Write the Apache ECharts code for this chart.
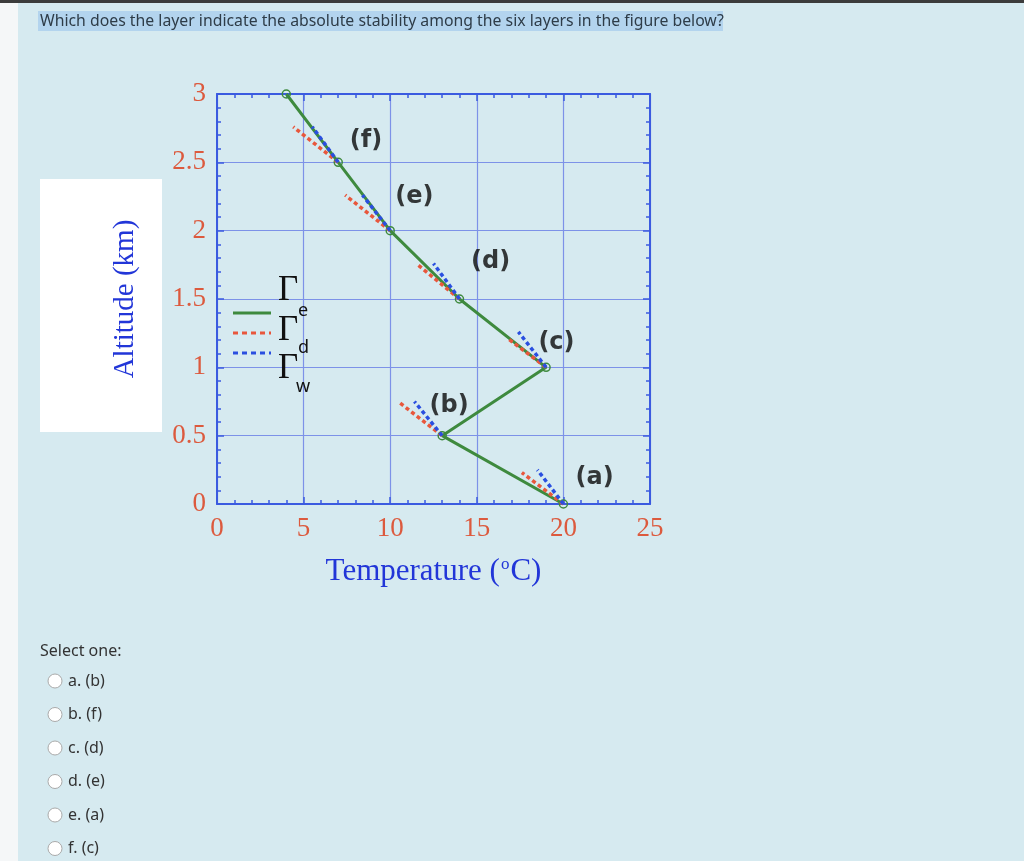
<!DOCTYPE html>
<html>
<head>
<meta charset="utf-8">
<script src="https://cdn.jsdelivr.net/npm/echarts@6/dist/echarts.min.js"></script>
<style>
html,body{margin:0;padding:0;background:#d6eaf0;}
#chart{width:1024px;height:861px;}
</style>
</head>
<body>
<div id="chart"></div>
<script>
// Environmental temperature profile (Γe)
const envTemp = [20, 13, 19, 14, 10, 7, 4];
const envAlt = [0, 0.5, 1, 1.5, 2, 2.5, 3];
// Layer labels
const layerNames = ['(a)', '(b)', '(c)', '(d)', '(e)', '(f)'];
const labelTemp = [21.8, 13.4, 19.6, 15.8, 11.4, 8.6];
const labelAlt = [0.19, 0.72, 1.18, 1.77, 2.25, 2.66];
// Reference segments start at the base of each layer
const baseTemp = [20, 13, 19, 14, 10, 7];
const baseAlt = [0, 0.5, 1, 1.5, 2, 2.5];
// Dry adiabatic (Γd) segment ends
const dryEndTemp = [17.6, 10.45, 16.8, 11.5, 7.4, 4.4];
const dryEndAlt = [0.23, 0.75, 1.21, 1.76, 2.26, 2.76];
// Moist adiabatic (Γw) segment ends
const moistEndTemp = [18.5, 11.4, 17.4, 12.5, 8.4, 5.5];
const moistEndAlt = [0.25, 0.75, 1.26, 1.76, 2.26, 2.76];
// Ticks
const xTicks = [0, 5, 10, 15, 20, 25];
const yTicks = [0, 0.5, 1, 1.5, 2, 2.5, 3];
// Quiz text
const questionText = 'Which does the layer indicate the absolute stability among the six layers in the figure below?';
const optionTexts = ['a. (b)', 'b. (f)', 'c. (d)', 'd. (e)', 'e. (a)', 'f. (c)'];

const envData = envTemp.map((t, i) => [t, envAlt[i]]);
function segData(endT, endA) {
  const d = [];
  baseTemp.forEach((t, i) => {
    d.push([t, baseAlt[i]]);
    d.push([endT[i], endA[i]]);
    d.push(['-', '-']);
  });
  return d;
}
const labelData = layerNames.map((n, i) => ({ value: [labelTemp[i], labelAlt[i]], name: n }));

const axisBlue = '#3b5be0';
const gridBlue = '#7d92e8';
const tickRed = '#dc5a3e';
const nameBlue = '#2236d8';
const serif = '"Liberation Serif", "DejaVu Serif", serif';
const sans = '"Noto Sans", "Open Sans", sans-serif';

function mkX(pos, showLabel) {
  return {
    type: 'value', position: pos, min: 0, max: 25, interval: 5,
    axisLine: { show: true, onZero: false, lineStyle: { color: axisBlue, width: 2 } },
    axisTick: { show: true, inside: true, length: 7, lineStyle: { color: axisBlue, width: 1.5 } },
    minorTick: { show: true, splitNumber: 5, length: 4, lineStyle: { color: axisBlue, width: 1.5 } },
    splitLine: { show: showLabel, lineStyle: { color: gridBlue, width: 1.2 } },
    axisLabel: { show: showLabel, color: tickRed, fontFamily: serif, fontSize: 27, margin: 11 },
    name: showLabel ? '{a|Temperature (}{s|o}{a|C)}' : '',
    nameLocation: 'middle', nameGap: 52,
    nameTextStyle: {
      rich: {
        a: { color: nameBlue, fontFamily: serif, fontSize: 31 },
        s: { color: nameBlue, fontFamily: serif, fontSize: 17, verticalAlign: 'top', padding: [0, 1, 14, 1] }
      }
    }
  };
}
function mkY(pos, showLabel) {
  return {
    type: 'value', position: pos, min: 0, max: 3, interval: 0.5,
    axisLine: { show: true, onZero: false, lineStyle: { color: axisBlue, width: 2 } },
    axisTick: { show: true, inside: true, length: 7, lineStyle: { color: axisBlue, width: 1.5 } },
    minorTick: { show: true, splitNumber: 5, length: 4, lineStyle: { color: axisBlue, width: 1.5 } },
    splitLine: { show: showLabel, lineStyle: { color: gridBlue, width: 1.2 } },
    axisLabel: { show: showLabel, color: tickRed, fontFamily: serif, fontSize: 27, margin: 11 },
    name: showLabel ? 'Altitude (km)' : '',
    nameLocation: 'middle', nameGap: 77, nameRotate: 90,
    nameTextStyle: { color: nameBlue, fontFamily: serif, fontSize: 29 }
  };
}

const graphics = [
  { type: 'rect', z: -10, shape: { x: 0, y: 0, width: 18, height: 861 }, style: { fill: '#f5f7f8' } },
  { type: 'rect', z: 10, shape: { x: 0, y: 0, width: 1024, height: 3 }, style: { fill: '#3c3c3c' } },
  { type: 'rect', z: -5, shape: { x: 40, y: 179, width: 122, height: 253 }, style: { fill: '#ffffff' } },
  { type: 'rect', z: -5, shape: { x: 38, y: 11, width: 685, height: 20 }, style: { fill: '#b3d4ee' } },
  { type: 'text', z: 5, x: 40, y: 21, style: { text: questionText, fill: '#2e3c48', font: '15.8px ' + sans, textVerticalAlign: 'middle' } },
  { type: 'text', z: 5, x: 40, y: 651, style: { text: 'Select one:', fill: '#333', font: '16px ' + sans, textVerticalAlign: 'middle' } },
  // legend
  { type: 'line', z: 5, shape: { x1: 233, y1: 313, x2: 271, y2: 313 }, style: { stroke: '#3e8a3e', lineWidth: 3 } },
  { type: 'line', z: 5, shape: { x1: 233, y1: 333, x2: 271, y2: 333 }, style: { stroke: '#e8573c', lineWidth: 3, lineDash: [5, 4] } },
  { type: 'line', z: 5, shape: { x1: 233, y1: 353, x2: 271, y2: 353 }, style: { stroke: '#2a4fe0', lineWidth: 3, lineDash: [5, 4] } },
  { type: 'text', z: 5, x: 278, y: 291, style: { text: 'Γ', fill: '#111', font: '35px ' + serif, textVerticalAlign: 'middle' } },
  { type: 'text', z: 5, x: 278, y: 331, style: { text: 'Γ', fill: '#111', font: '35px ' + serif, textVerticalAlign: 'middle' } },
  { type: 'text', z: 5, x: 278, y: 369, style: { text: 'Γ', fill: '#111', font: '35px ' + serif, textVerticalAlign: 'middle' } },
  { type: 'text', z: 5, x: 298, y: 311, style: { text: 'e', fill: '#111', font: '18px ' + sans, textVerticalAlign: 'middle' } },
  { type: 'text', z: 5, x: 298, y: 348, style: { text: 'd', fill: '#111', font: '18px ' + sans, textVerticalAlign: 'middle' } },
  { type: 'text', z: 5, x: 296, y: 387, style: { text: 'w', fill: '#111', font: '18px ' + sans, textVerticalAlign: 'middle' } }
];
optionTexts.forEach((t, i) => {
  const cy = 681 + i * 33.5;
  graphics.push({ type: 'circle', z: 5, shape: { cx: 55, cy: cy, r: 7 }, style: { fill: '#ffffff', stroke: '#aaaaaa', lineWidth: 1 } });
  graphics.push({ type: 'text', z: 5, x: 68, y: cy, style: { text: t, fill: '#333', font: '16px ' + sans, textVerticalAlign: 'middle' } });
});

const chart = echarts.init(document.getElementById('chart'));
chart.setOption({
  backgroundColor: '#d6eaf0',
  animation: false,
  grid: { left: 217, right: 374, top: 94, bottom: 357 },
  xAxis: [mkX('bottom', true), mkX('top', false)],
  yAxis: [mkY('left', true), mkY('right', false)],
  graphic: graphics,
  series: [
    {
      type: 'line', name: 'Γe', data: envData, z: 3,
      symbol: 'circle', symbolSize: 8, showSymbol: true,
      itemStyle: { color: 'rgba(0,0,0,0)', borderColor: '#3e8a3e', borderWidth: 1.5 },
      lineStyle: { color: '#3e8a3e', width: 3 }
    },
    {
      type: 'line', name: 'Γd', data: segData(dryEndTemp, dryEndAlt), connectNulls: false,
      symbol: 'none', z: 4,
      lineStyle: { color: '#e8573c', width: 3.5, type: [4, 3] }
    },
    {
      type: 'line', name: 'Γw', data: segData(moistEndTemp, moistEndAlt), connectNulls: false,
      symbol: 'none', z: 5,
      lineStyle: { color: '#2a4fe0', width: 3.5, type: [4, 3] }
    },
    {
      type: 'scatter', name: 'labels', data: labelData, symbolSize: 1, z: 6,
      itemStyle: { color: 'rgba(0,0,0,0)' },
      label: {
        show: true, position: 'inside', formatter: p => p.name,
        color: '#0a0a0a', fontFamily: '"DejaVu Sans", sans-serif', fontWeight: 'bold', fontSize: 24
      }
    }
  ]
});
</script>
</body>
</html>
